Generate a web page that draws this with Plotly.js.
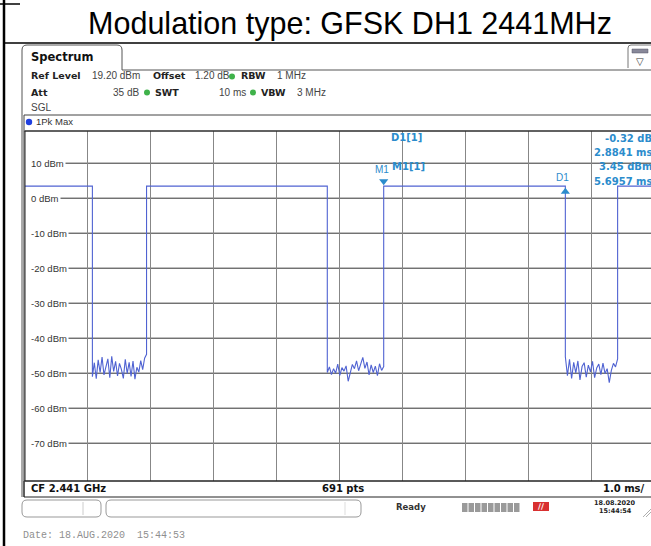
<!DOCTYPE html>
<html>
<head>
<meta charset="utf-8">
<script src="https://cdn.plot.ly/plotly-3.0.1.min.js"></script>
<style>
html,body{margin:0;padding:0;background:#fff;overflow:hidden;}
#chart{width:651px;height:546px;}
</style>
</head>
<body>
<div id="chart"></div>
<script>
// ---- data ----
const titleText = 'Modulation type: GFSK DH1 2441MHz';
const highLevel = 3.45;                 // dBm, burst level (M1)
const edgeTimes = [1.07, 1.93, 4.80, 5.6957, 8.5798, 9.41]; // ms: fall, rise, fall, rise, fall, rise
const noise1 = [-51.0,-47.0,-51.6,-46.2,-49.8,-45.4,-50.5,-47.9,-45.9,-51.3,-45.2,-49.5,-46.6,-50.8,-47.2,-48.9,-51.5,-46.0,-50.1,-46.9,-50.9,-46.5,-51.7,-48.3,-49.7,-46.4,-49.0,-45.7,-44.6];
const noise2 = [-49.8,-48.2,-50.4,-48.7,-50.0,-47.4,-50.6,-48.4,-49.4,-47.9,-52.3,-49.6,-47.5,-48.7,-46.5,-49.3,-47.1,-45.5,-48.6,-46.8,-50.5,-47.6,-49.8,-48.0,-50.7,-47.3,-49.2,-48.1];
const noise3 = [-45.3,-50.7,-46.0,-51.5,-46.9,-49.9,-46.5,-51.9,-48.1,-47.0,-51.1,-47.7,-49.6,-46.6,-51.3,-48.5,-47.4,-50.4,-47.1,-50.1,-48.7,-52.7,-49.2,-47.2,-48.2,-45.9];
const yTickVals = [10, 0, -10, -20, -30, -40, -50, -60, -70];
const yTickText = ['10 dBm','0 dBm','-10 dBm','-20 dBm','-30 dBm','-40 dBm','-50 dBm','-60 dBm','-70 dBm'];
const markerNames = ['M1', 'D1'];
const markerTimes = [5.6957, 5.6957 + 2.8841];
const markerLevels = [3.45, 3.45 - 0.32];
const markerReadout = ['D1[1]', '-0.32 dB', '2.8841 ms', 'M1[1]', '3.45 dBm', '5.6957 ms'];
const refLevel = 19.2, bottomLevel = -80.8, sweepEnd = 9.94;

// ---- build trace from the values ----
const noises = [noise1, noise2, noise3];
const tx = [0], ty = [highLevel];
for (let k = 0; k < 3; k++) {
  const f = edgeTimes[2*k], r = edgeTimes[2*k+1], n = noises[k];
  tx.push(f); ty.push(highLevel);
  for (let i = 0; i < n.length; i++) { tx.push(f + i*(r-f)/(n.length-1)); ty.push(n[i]); }
  tx.push(r); ty.push(highLevel);
}
tx.push(10); ty.push(highLevel);

// ---- pixel helpers for decoration (plot area 25..651 x 131..481) ----
const X = p => (p-25)/626, Y = p => (481-p)/350;
const FONT = 'DejaVu Sans, Verdana, sans-serif';
const VFONT = 'Liberation Sans, Arial, sans-serif';
const ann = [], shp = [];
function txt(x, y, text, o={}) {
  ann.push({xref:'paper', yref:'paper', x:X(x), y:Y(y), text, showarrow:false,
    xanchor:o.anchor||'left', yanchor:'middle',
    font:{family:o.family||FONT, size:o.size||9.5, color:o.color||'#222', weight:o.bold?'bold':'normal'},
    bgcolor:o.bg, borderpad:0});
}
function line(x0,y0,x1,y1,c,w){ shp.push({type:'line',xref:'paper',yref:'paper',x0:X(x0),y0:Y(y0),x1:X(x1),y1:Y(y1),line:{color:c,width:w}}); }
function rect(x0,y0,x1,y1,c,w,fill,layer){ shp.push({type:'rect',xref:'paper',yref:'paper',x0:X(x0),y0:Y(y0),x1:X(x1),y1:Y(y1),line:{color:c,width:w},fillcolor:fill||'rgba(0,0,0,0)',layer:layer||'above'}); }
function dot(cx,cy,r,c){ shp.push({type:'circle',xref:'paper',yref:'paper',x0:X(cx-r),y0:Y(cy-r),x1:X(cx+r),y1:Y(cy+r),line:{width:0},fillcolor:c}); }
function path(cmds,c,w,fill){
  const s = cmds.map(([op,...pts]) => {
    let out = op; for (let i=0;i<pts.length;i+=2) out += (i? ' ':'') + X(pts[i]) + ',' + Y(pts[i+1]) + ' ';
    return out;
  }).join(' ');
  shp.push({type:'path',xref:'paper',yref:'paper',path:s,line:{color:c,width:w},fillcolor:fill||'rgba(0,0,0,0)'});
}

// outer page frame
line(4,0,4,546,'#000',2.5);
line(0,4,20,4,'#000',1.5);
line(4,43,651,43,'#000',1.5);

// spectrum tab + window frame
path([['M',22,497],['L',22,50],['Q',22,45,27,45],['L',117,45],['Q',122,45,122,50],['L',122,70],['L',651,70]],'#555',1);
txt(30,57,'Spectrum',{size:11.5,bold:true,color:'#111'});
path([['M',628,68],['L',628,48],['Q',628,45,631,45],['L',651,45]],'#777',1);
rect(632,49,648,53,'#556',0.5,'#889');
txt(640,61,'▽',{anchor:'center',size:10,color:'#333'});

// settings lines
txt(30,76,'Ref Level',{bold:true});
txt(91,76,'19.20 dBm',{color:'#444',family:VFONT,size:10});
txt(152,76,'Offset',{bold:true});
txt(194,76,'1.20 dB',{color:'#444',family:VFONT,size:10});
dot(232,76.5,3,'#3fb24a');
txt(240,76,'RBW',{bold:true});
txt(276,76,'1 MHz',{color:'#444',family:VFONT,size:10});
txt(30,92,'Att',{bold:true});
txt(140,92,'35 dB',{color:'#444',anchor:'right',family:VFONT,size:10});
dot(147,92.5,3,'#3fb24a');
txt(154,92,'SWT',{bold:true});
txt(218,92,'10 ms',{color:'#444',family:VFONT,size:10});
dot(253,92.5,3,'#3fb24a');
txt(260,92,'VBW',{bold:true});
txt(296,92,'3 MHz',{color:'#444',family:VFONT,size:10});
txt(30,107,'SGL',{color:'#444',family:VFONT,size:10});

// trace info bar
rect(24,115,652,131,'#444',1);
dot(29,122,3.2,'#1f3fe0');
txt(35,121,'1Pk Max',{color:'#333',size:9.5,family:VFONT});

// plot frame
line(24,131,24,497,'#333',1);
rect(25,131,652,481,'#222',1);
rect(24,481,652,497,'#222',1);
txt(30,488.5,'CF 2.441 GHz',{bold:true,size:10,color:'#111'});
txt(343,488.5,'691 pts',{bold:true,size:10,color:'#111',anchor:'center'});
txt(646,488.5,'1.0 ms/',{bold:true,size:10,color:'#111',anchor:'right'});

// horizontal grid lines + labels
yTickVals.forEach((v,i) => {
  shp.push({type:'line',xref:'paper',yref:'y',x0:X(30),x1:1,y0:v,y1:v,line:{color:'#333',width:1},layer:'below'});
  ann.push({xref:'paper',yref:'y',x:X(29),y:v,text:yTickText[i],showarrow:false,xanchor:'left',yanchor:'middle',
    font:{family:VFONT,size:9.5,color:'#333'},bgcolor:'#fff',borderpad:1});
});

// marker readout
const MC = '#2b8ccc';
txt(390,137,markerReadout[0],{bold:true,color:MC,size:10});
txt(653,138,markerReadout[1],{bold:true,color:MC,anchor:'right',size:10});
txt(653,152,markerReadout[2],{bold:true,color:MC,anchor:'right',size:10});
txt(391,166,markerReadout[3],{bold:true,color:MC,size:10});
txt(653,166,markerReadout[4],{bold:true,color:MC,anchor:'right',size:10});
txt(653,181,markerReadout[5],{bold:true,color:MC,anchor:'right',size:10});
markerNames.forEach((m,i) => {
  ann.push({xref:'x',yref:'y',x:markerTimes[i],y:markerLevels[i],text:m,showarrow:false,
    xanchor:'center',yanchor:'bottom',yshift:i===0?9:2,xshift:i===0?-2:-3,
    font:{family:VFONT,size:10,color:MC}});
});

// status bar
path([['M',27,500],['L',96,500],['Q',101,500,101,505],['L',101,512],['Q',101,517,96,517],['L',27,517],['Q',22,517,22,512],['L',22,505],['Q',22,500,27,500]],'#999',1);
line(83,502,83,515,'#ccc',1);
path([['M',111,500],['L',356,500],['Q',361,500,361,505],['L',361,512],['Q',361,517,356,517],['L',111,517],['Q',106,517,106,512],['L',106,505],['Q',106,500,111,500]],'#999',1);
line(345,502,345,515,'#ddd',1);
txt(411,507,'Ready',{bold:true,size:8.5,color:'#333',anchor:'center'});
for (let i=0;i<9;i++) rect(462+i*6.5,503,462+i*6.5+5.5,512,'#999',0,'#9a9a9a');
rect(533,502,549,511,'#c22',0,'#d83030');
txt(541,506.5,'\u2215\u2215',{size:8,color:'#fff',anchor:'center',bold:true});
txt(615,503,'18.08.2020',{bold:true,size:6.5,color:'#222',anchor:'center'});
txt(615,511,'15:44:54',{bold:true,size:6.5,color:'#222',anchor:'center'});
path([['M',643,517],['L',651,509]],'#999',0.8);
path([['M',646,517],['L',651,512]],'#999',0.8);

txt(22,535,'Date: 18.AUG.2020  15:44:53',{family:'Liberation Mono, DejaVu Sans Mono, monospace',size:10,color:'#8f8f8f'});

const traces = [
  {x:tx, y:ty, type:'scatter', mode:'lines', line:{color:'#5063d2', width:1.1}, hoverinfo:'skip'},
  {x:[markerTimes[0]], y:[markerLevels[0]+1.4], type:'scatter', mode:'markers',
   marker:{symbol:'triangle-down', size:8, color:MC}, hoverinfo:'skip'},
  {x:[markerTimes[1]], y:[markerLevels[1]-1.3], type:'scatter', mode:'markers',
   marker:{symbol:'triangle-up', size:8, color:MC}, hoverinfo:'skip'}
];

const layout = {
  width:651, height:546,
  margin:{l:25, r:0, t:131, b:65},
  paper_bgcolor:'#fff', plot_bgcolor:'#fff',
  showlegend:false,
  title:{text:titleText, font:{family:'Liberation Sans, Arial, sans-serif', size:30.5, color:'#000'},
         xref:'paper', x:X(350), xanchor:'center', yref:'container', y:1-23/546, yanchor:'middle'},
  xaxis:{range:[0, sweepEnd], dtick:1, tick0:0, showgrid:true, gridcolor:'#878787', gridwidth:1,
         showticklabels:false, ticks:'', zeroline:false, showline:false, fixedrange:true},
  yaxis:{range:[bottomLevel, refLevel], showgrid:false, showticklabels:false, ticks:'',
         zeroline:false, showline:false, fixedrange:true},
  shapes:shp, annotations:ann
};
Plotly.newPlot('chart', traces, layout, {displayModeBar:false, staticPlot:true});
</script>
</body>
</html>
